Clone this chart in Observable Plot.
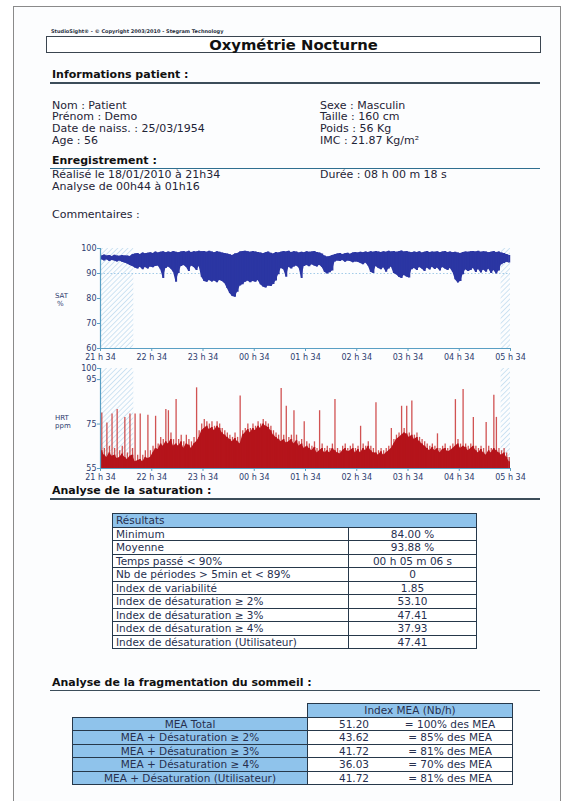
<!DOCTYPE html>
<html><head><meta charset="utf-8">
<script src="https://cdn.jsdelivr.net/npm/d3@7"></script>
<script src="https://cdn.jsdelivr.net/npm/@observablehq/plot@0.6"></script>
<style>
html,body{margin:0;padding:0;background:#fff;}
#page{position:relative;width:574px;height:801px;overflow:hidden;font-family:"DejaVu Sans",sans-serif;color:#1f2436;}
.t{position:absolute;white-space:nowrap;line-height:12px;font-size:11px;}
.b{font-weight:bold;color:#111;}
.c{position:absolute;box-sizing:border-box;border:1px solid #26384a;white-space:nowrap;font-size:10.5px;color:#27304f;overflow:hidden;}
svg{position:absolute;left:0;}
</style></head><body><div id="page"></div>
<script>
// ---------- DATA ----------
const copyright = "StudioSight® - © Copyright 2003/2010 - Stegram Technology";
const title = "Oxymétrie Nocturne";
const sections = ["Informations patient :", "Enregistrement :", "Analyse de la saturation :", "Analyse de la fragmentation du sommeil :"];
const infoLeft = ["Nom : Patient", "Prénom : Demo", "Date de naiss. : 25/03/1954", "Age : 56"];
const infoRight = ["Sexe : Masculin", "Taille : 160 cm", "Poids : 56 Kg", "IMC : 21.87 Kg/m²"];
const recLeft = ["Réalisé le 18/01/2010 à 21h34", "Analyse de 00h44 à 01h16"];
const recRight = ["Durée : 08 h 00 m 18 s"];
const commentLabel = "Commentaires :";

const tickMinutes = [0, 60, 120, 180, 240, 300, 360, 420, 480];
const tickLabels = ["21 h 34", "22 h 34", "23 h 34", "00 h 34", "01 h 34", "02 h 34", "03 h 34", "04 h 34", "05 h 34"];
const binMinutes = 3;
const hatchStart = [0, 469];
const hatchEnd = [39, 480];

const satTicks = [60, 70, 80, 90, 100];
const satLow = [
  95.5, 95, 95.5, 94.8, 95.2, 95, 94.6, 95, 94.5, 94.2,
  93.8, 93.2, 92.8, 92.2, 91.8, 92.5, 91.5, 92.4, 91.8, 92.6,
  92.3, 92.8, 93, 91.5, 88, 92, 92.6, 91.8, 90.5, 86.5,
  90, 92.8, 93.2, 92.5, 90.8, 93, 92.4, 91.2, 92.8, 88.5,
  86.8, 86.5, 87.2, 86.6, 87, 86.3, 87.2, 86.8, 86, 84,
  82, 80.8, 80.5, 82.5, 85, 85.5, 86.5, 87, 86.3, 86.8,
  86.5, 87.2, 85.5, 84.6, 84.2, 85, 84.8, 85.6, 87, 89.5,
  92, 91.5, 88.5, 92.5, 91.8, 92.6, 93, 92.2, 88, 92.8,
  93.2, 92.7, 93.5, 93, 92.6, 93.3, 92.4, 90.5, 89.8, 90.3,
  91, 94.6, 95, 94.8, 95.2, 94.5, 95, 94.8, 94.3, 94.6,
  94.5, 94, 93.5, 94.2, 93, 90.5, 90, 92.8, 92, 91.5,
  92.3, 90.5, 91.8, 92.6, 90, 89.5, 88.5, 88, 89.2, 88.6,
  88.2, 91.5, 92, 91.2, 92.4, 91.8, 90.8, 92.2, 91.4, 92.5,
  91.6, 92.2, 91, 92.4, 91.8, 91.2, 92, 90.5, 87.5, 86.2,
  86.8, 89.5, 91.5, 90.8, 91.2, 92, 90.4, 91.6, 90.2, 91.4,
  90.5, 91.8, 90, 91.2, 89.8, 91, 93.5, 94, 94.5, 94.2
];
const satHigh = [
  97, 97.4, 97, 97.2, 96.8, 97.3, 97, 96.9, 97.2, 97,
  97, 96.8, 97.5, 97.8, 98, 97.6, 98.2, 97.9, 98.1, 98.3,
  98, 98.6, 98.2, 98.5, 98.7, 98.3, 98.6, 98.4, 98.8, 98.5,
  98.3, 98.6, 98.8, 98.5, 98.9, 98.4, 98.7, 98.6, 98.9, 98.7,
  98.8, 98.5, 98.9, 98.6, 98.3, 98.7, 98.5, 98.2, 98, 97.8,
  97.5, 97.2, 97.8, 98, 98.6, 98.8, 98.9, 98.7, 98.5, 98.8,
  98.6, 98.4, 98.2, 97.9, 98.3, 98.6, 98.1, 97.8, 98.4, 98.2,
  98.5, 98.8, 98.6, 98.9, 98.4, 98.7, 98.6, 98.2, 98.5, 98.3,
  98.7, 98.5, 98.6, 98.8, 98.4, 98.2, 97.8, 97, 96.6, 96.8,
  97.2, 97.5, 97.8, 98, 97.6, 97.9, 98.1, 97.7, 98.2, 98.4,
  98.2, 98.5, 98.3, 98.6, 98.4, 98.7, 98.5, 98.8, 98.6, 98.4,
  98.7, 98.5, 98.9, 98.6, 98.8, 98.5, 98.7, 99, 98.6, 98.8,
  98.5, 98.3, 98.6, 98.4, 98.7, 98.2, 98.5, 98.8, 98.4, 98.6,
  98.5, 98.7, 98.3, 98.6, 98.8, 98.4, 98.6, 98.3, 98.5, 98.2,
  98, 98.4, 98.6, 98.5, 98.7, 98.8, 98.6, 98.9, 98.5, 98.7,
  98.6, 98.3, 98.5, 98.8, 98.4, 98.6, 98.2, 98, 97.6, 97.2
];

const hrtTicks = [55, 75, 95, 100];
const hrtFloor = 55;
const hrtBody = [
  63, 61, 60, 62, 60.5, 61, 59.5, 60, 61.5, 60,
  59, 60.5, 61, 58, 58.5, 59, 58, 60, 59.5, 60,
  62, 64, 63.5, 66, 65, 67, 66, 68, 65, 66,
  65, 67, 64, 66, 65.5, 64, 66, 67, 69, 72,
  73, 74, 72.5, 73.5, 72, 74, 73, 71, 70, 69,
  68, 67, 68.5, 67, 66, 70, 71, 72.5, 71, 73,
  72, 74, 73, 75, 74, 73.5, 72, 70, 69, 68,
  67, 68, 66.5, 67, 68, 66, 67.5, 65, 66, 64,
  65, 64, 63, 64.5, 62, 63, 64, 62, 63, 62,
  64, 63, 62, 61.5, 63, 64, 62.5, 63, 64, 62,
  63.5, 62, 64, 63, 65, 63, 62, 62, 61, 62.5,
  61, 62, 63, 64, 66, 68, 69, 70, 71, 70.5,
  69, 70, 68, 69, 67, 66, 65, 64, 63, 64.5,
  63, 64, 62, 63.5, 64, 62.5, 63, 64, 65, 66,
  64, 65, 64.5, 63, 64, 65, 63, 62, 63.5, 62,
  61, 63, 62, 64, 63, 62, 61, 62, 60, 58
];
const hrtPeak = [
  80, 64, 75.5, 65, 79.5, 64, 81.5, 63, 65, 78,
  62, 79.5, 64, 79.5, 61, 79.5, 61, 63, 79, 63,
  65, 78.5, 66, 69, 68, 81.5, 81, 71, 68, 86,
  68, 70, 67, 70, 68, 67, 69, 91.3, 72, 75,
  77, 76, 75, 76, 74, 76, 75, 73, 72, 71,
  70, 69, 71, 69, 87.6, 72, 73, 75, 73, 75,
  74, 76, 75, 77, 76, 75, 74, 72, 71, 70,
  91, 70, 83, 69, 70, 81, 70, 67, 68, 76,
  67, 66, 65, 67, 64, 81, 66, 64, 65, 64,
  66, 86, 64, 63, 65, 66, 64, 65, 66, 64,
  65, 74, 66, 65, 67, 65, 64, 84.6, 63, 64,
  63, 64, 65, 73, 68, 70, 71, 83, 73, 83,
  71, 85.4, 70, 71, 69, 68, 67, 66, 65, 66,
  65, 70.6, 64, 65, 66, 64, 65, 66, 86, 68,
  66, 90.5, 66, 65, 66, 78, 65, 64, 65, 64,
  75.7, 65, 64, 88, 78, 64, 63, 64, 62, 60
];

const resultHeader = "Résultats";
const resultLabels = ["Minimum", "Moyenne", "Temps passé < 90%", "Nb de périodes > 5min et < 89%", "Index de variabilité", "Index de désaturation ≥ 2%", "Index de désaturation ≥ 3%", "Index de désaturation ≥ 4%", "Index de désaturation (Utilisateur)"];
const resultValues = ["84.00 %", "93.88 %", "00 h 05 m 06 s", "0", "1.85", "53.10", "47.41", "37.93", "47.41"];

const meaHeader = "Index MEA (Nb/h)";
const meaLabels = ["MEA Total", "MEA + Désaturation ≥ 2%", "MEA + Désaturation ≥ 3%", "MEA + Désaturation ≥ 4%", "MEA + Désaturation (Utilisateur)"];
const meaValues = ["51.20", "43.62", "41.72", "36.03", "41.72"];
const meaShares = ["= 100% des MEA", "= 85% des MEA", "= 81% des MEA", "= 70% des MEA", "= 81% des MEA"];

// ---------- PAGE ----------
const page = document.getElementById("page");
function el(tag, cls, style, text) {
  const e = document.createElement(tag);
  if (cls) e.className = cls;
  Object.assign(e.style, style);
  if (text != null) e.textContent = text;
  page.appendChild(e);
  return e;
}
function txt(s, x, yc, extra = {}, cls = "t") {
  return el("div", cls, Object.assign({left: x + "px", top: (yc - 6) + "px"}, extra), s);
}
function hline(x, y, w, color, h = 1.5) {
  el("div", null, {position: "absolute", left: x + "px", top: y + "px", width: w + "px", height: h + "px", background: color});
}

el("div", null, {position: "absolute", left: "13px", top: "6px", width: "546px", height: "820px", border: "1px solid #8a8a8a", background: "#fcfdfe"});

txt(copyright, 51, 31, {fontSize: "5px", fontWeight: "bold", color: "#2a3040"});
el("div", null, {position: "absolute", left: "46px", top: "36px", width: "495px", height: "17px", boxSizing: "border-box", border: "1.5px solid #3a4550", background: "#fff"});
el("div", "t b", {left: "46px", width: "495px", top: "36px", lineHeight: "17px", textAlign: "center", fontSize: "14.8px"}, title);

const head = {fontSize: "11px"};
txt(sections[0], 52, 75, head, "t b");
hline(50, 82, 490, "#3c4d5a");
infoLeft.forEach((s, i) => txt(s, 52, 105.7 + i * 11.7));
infoRight.forEach((s, i) => txt(s, 320, 105.7 + i * 11.7));

txt(sections[1], 52, 161, head, "t b");
hline(50, 167.8, 490, "#2f6f90");
recLeft.forEach((s, i) => txt(s, 52, 174.5 + i * 12.3));
recRight.forEach((s, i) => txt(s, 320, 174.5 + i * 12.3));
txt(commentLabel, 52, 215);

txt(sections[2], 52, 491, head, "t b");
hline(50, 498, 490, "#3c4d5a");
txt(sections[3], 52, 683, head, "t b");
hline(50, 689.5, 490, "#3c4d5a");

const lab = {fontSize: "7px", color: "#2d3c6e", lineHeight: "8px"};
txt("SAT", 55, 298, lab); txt("%", 57, 306, lab);
txt("HRT", 55, 420, lab); txt("ppm", 55, 428, lab);

// ---------- CHARTS ----------
const axisColor = "#5a9fc4";
const labelColor = "#2d3c6e";
const hatchColor = "#a3cbe8";
const satColor = "#2b36a3";
const hrtColor = "#b5141b";
const hatch = hatchStart.map((s, i) => ({start: s, end: hatchEnd[i]}));
const satBins = satLow.map((lo, i) => ({t: i * binMinutes + binMinutes / 2, lo, hi: satHigh[i]}));
const hrtBins = hrtBody.map((b, i) => ({t: i * binMinutes + binMinutes / 2, body: b, peak: hrtPeak[i]}));

function addHatch(svg, id) {
  const ns = "http://www.w3.org/2000/svg";
  const defs = document.createElementNS(ns, "defs");
  const p = document.createElementNS(ns, "pattern");
  p.setAttribute("id", id);
  p.setAttribute("patternUnits", "userSpaceOnUse");
  p.setAttribute("width", "3.6");
  p.setAttribute("height", "3.6");
  p.setAttribute("patternTransform", "rotate(45)");
  const l = document.createElementNS(ns, "line");
  l.setAttribute("x1", "0"); l.setAttribute("y1", "0");
  l.setAttribute("x2", "0"); l.setAttribute("y2", "3.6");
  l.setAttribute("stroke", hatchColor); l.setAttribute("stroke-width", "1");
  p.appendChild(l); defs.appendChild(p);
  svg.insertBefore(defs, svg.firstChild);
}

const common = {
  width: 574, marginLeft: 100, marginRight: 64,
  style: {background: "transparent", fontFamily: "DejaVu Sans", fontSize: "8px", color: labelColor, overflow: "visible"}
};
const xAxis = () => Plot.axisX({ticks: tickMinutes, tickFormat: d => tickLabels[tickMinutes.indexOf(d)], tickSize: 3, tickPadding: 2.5, stroke: axisColor, fill: labelColor, label: null});
const yAxis = (ticks) => [
  Plot.axisY({ticks, tickSize: 3, tickFormat: () => "", stroke: axisColor, label: null}),
  Plot.text(ticks, {x: 0, y: d => d, text: d => String(d), textAnchor: "end", dx: -4, fill: labelColor, fontSize: 8})
];

const sat = Plot.plot({
  ...common, height: 124, marginTop: 10, marginBottom: 14,
  x: {domain: [0, 480]},
  y: {domain: [60, 100]},
  marks: [
    Plot.rect(hatch, {x1: "start", x2: "end", fill: "url(#hatchSat)"}),
    Plot.ruleY([90], {stroke: hatchColor, strokeDasharray: "1.5,2"}),
    Plot.areaY(satBins, {x: "t", y1: "lo", y2: "hi", fill: satColor, curve: "linear"}),
    Plot.ruleX(satBins, {x: "t", y1: "lo", y2: "hi", stroke: satColor, strokeWidth: 2}),
    xAxis(),
    ...yAxis(satTicks),
    Plot.ruleX([0], {stroke: axisColor, strokeWidth: 1.2}),
    Plot.ruleY([60], {stroke: axisColor, strokeWidth: 1.2})
  ]
});
addHatch(sat, "hatchSat");
sat.style.top = "238px";
page.appendChild(sat);

const hrt = Plot.plot({
  ...common, height: 122, marginTop: 6, marginBottom: 16,
  x: {domain: [0, 480]},
  y: {domain: [55, 100]},
  marks: [
    Plot.rect(hatch, {x1: "start", x2: "end", fill: "url(#hatchHrt)"}),
    Plot.ruleX(hrtBins, {x: "t", y1: hrtFloor, y2: "peak", stroke: "#c62828", strokeWidth: 1.3, strokeOpacity: 0.8}),
    Plot.areaY(hrtBins, {x: "t", y1: hrtFloor, y2: "body", fill: hrtColor, curve: "linear"}),
    Plot.ruleX(hrtBins, {x: "t", y1: hrtFloor, y2: "body", stroke: hrtColor, strokeWidth: 1.6}),
    xAxis(),
    ...yAxis(hrtTicks),
    Plot.ruleX([0], {stroke: axisColor, strokeWidth: 1.2}),
    Plot.ruleY([55], {stroke: axisColor, strokeWidth: 1.2})
  ]
});
addHatch(hrt, "hatchHrt");
hrt.style.top = "362px";
page.appendChild(hrt);

// ---------- TABLES ----------
function cell(x, y, w, h, content, bg, align = "left", pad = 3) {
  const c = el("div", "c", {left: x + "px", top: y + "px", width: w + "px", height: h + "px", background: bg, lineHeight: (h - 1) + "px", textAlign: align, paddingLeft: pad + "px"});
  if (typeof content === "string") c.textContent = content; else c.appendChild(content);
  return c;
}
const blue = "#8fc3eb";
const rowH = 13.5;
cell(112, 513, 365, rowH + 1, resultHeader, blue);
resultLabels.forEach((s, i) => {
  const y = 513 + rowH * (i + 1);
  cell(112, y, 237, rowH + 1, s, "#fff");
  cell(348, y, 129, rowH + 1, resultValues[i], "#fff", "center", 0);
});

cell(307, 703, 206, rowH + 1, meaHeader, blue, "center", 0);
meaLabels.forEach((s, i) => {
  const y = 703 + rowH * (i + 1);
  cell(72, y, 236, rowH + 1, s, blue, "center", 0);
  const wrap = document.createElement("div");
  wrap.style.display = "flex";
  const a = document.createElement("span"); a.style.width = "92px"; a.style.textAlign = "center"; a.textContent = meaValues[i];
  const b = document.createElement("span"); b.style.width = "100px"; b.style.textAlign = "center"; b.textContent = meaShares[i];
  wrap.appendChild(a); wrap.appendChild(b);
  cell(307, y, 206, rowH + 1, wrap, "#fff", "left", 0);
});
</script></body></html>
